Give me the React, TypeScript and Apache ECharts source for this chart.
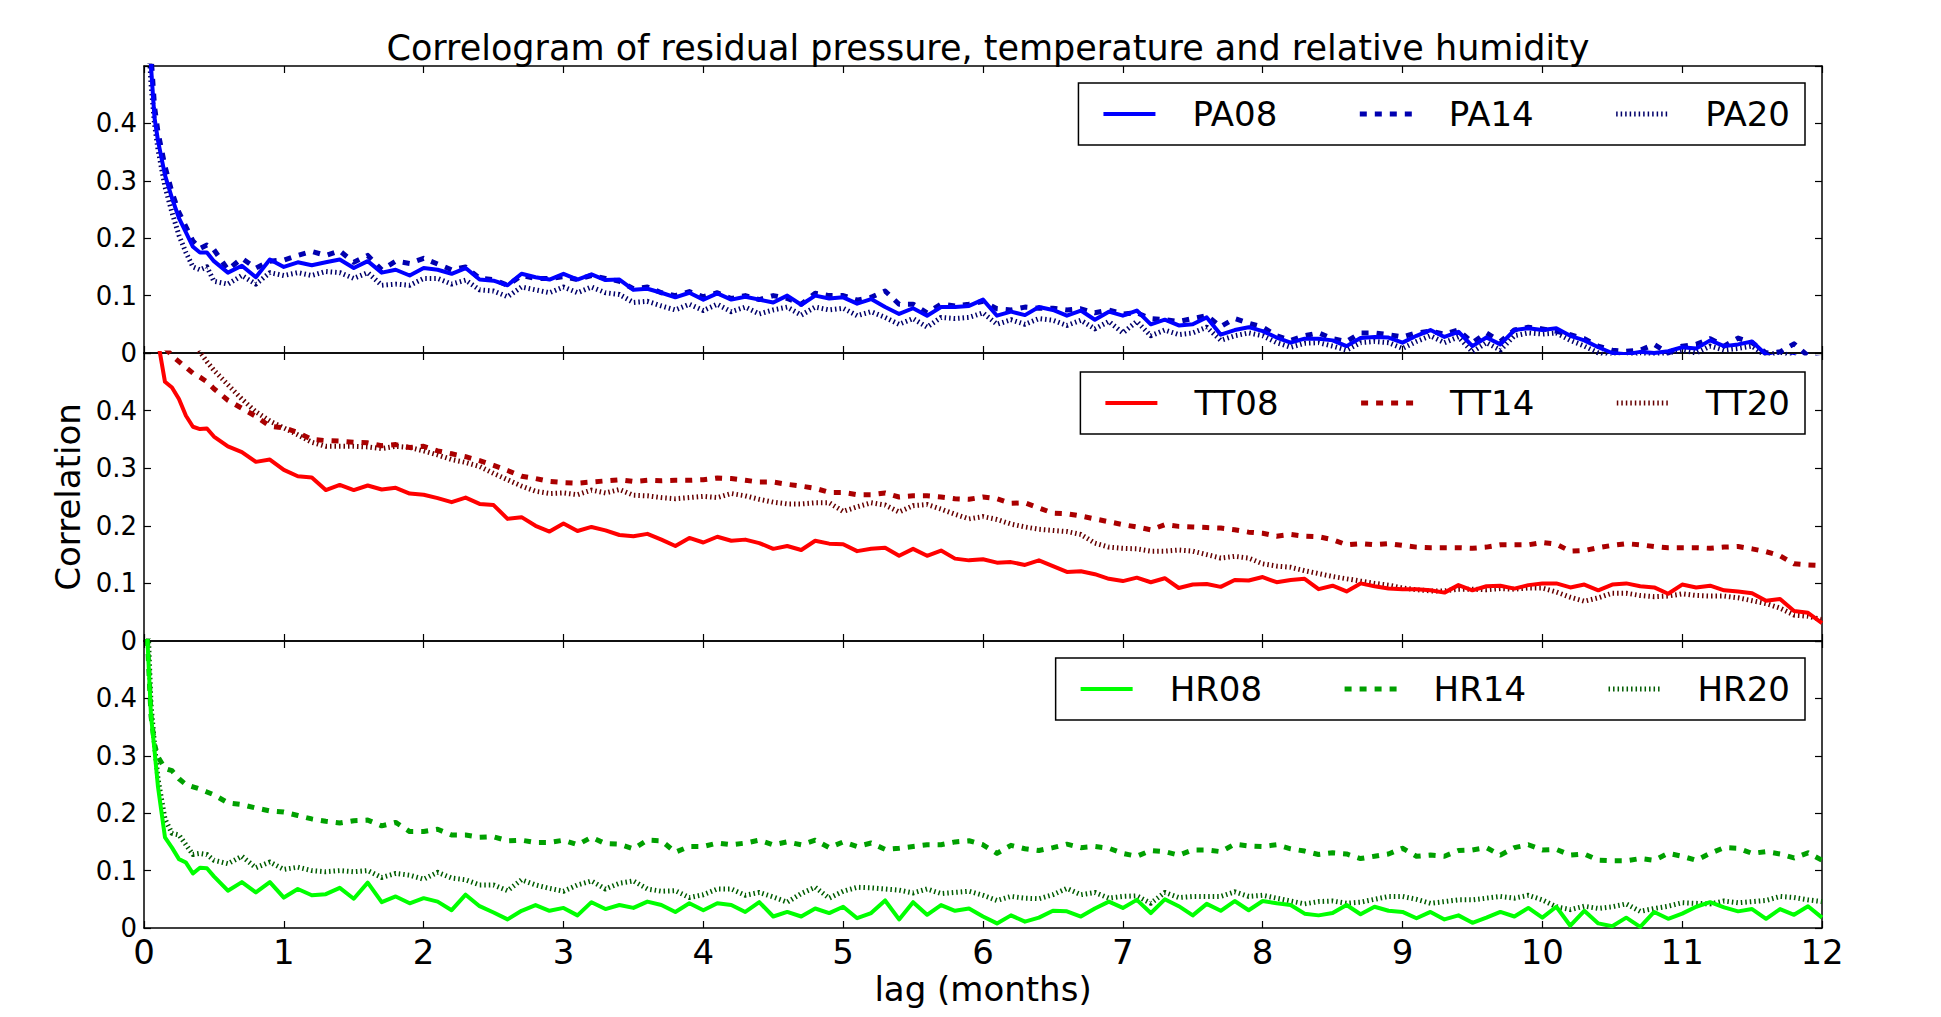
import React, { useEffect, useRef } from "react";
import * as echarts from "echarts";

const FONT = "'DejaVu Sans', sans-serif";
const TITLE = "Correlogram of residual pressure, temperature and relative humidity";
const X_NAME = "lag (months)";
const Y_NAME = "Correlation";

// lags in months: dense at the start, then every 0.1 month
const LAGS_EARLY = [0, 0.025, 0.05, 0.075, 0.1, 0.15, 0.2, 0.25, 0.3, 0.35, 0.4, 0.45, 0.5];
const LAGS = [...LAGS_EARLY, ...Array.from({ length: 115 }, (_, i) => (6 + i) / 10)];

// ---- residual pressure ----
const PA08 = [
  1.0, 0.6, 0.5, 0.41, 0.37, 0.31, 0.27, 0.235, 0.21, 0.185, 0.175, 0.175, 0.16,
  0.14, 0.152, 0.132, 0.163, 0.15, 0.158, 0.153, 0.158, 0.163, 0.148,
  0.16, 0.14, 0.145, 0.135, 0.148, 0.145, 0.138, 0.148, 0.128, 0.126,
  0.118, 0.138, 0.132, 0.128, 0.138, 0.128, 0.137, 0.127, 0.128, 0.11,
  0.112, 0.105, 0.097, 0.105, 0.093, 0.104, 0.093, 0.098, 0.093, 0.088,
  0.1, 0.084, 0.1, 0.095, 0.097, 0.086, 0.094, 0.08, 0.068, 0.078,
  0.065, 0.08, 0.08, 0.082, 0.093,
  0.065, 0.072, 0.066, 0.08, 0.075, 0.065, 0.074, 0.058, 0.072, 0.065,
  0.074, 0.05, 0.058, 0.048, 0.05, 0.062, 0.032, 0.04, 0.045, 0.038,
  0.027, 0.018, 0.025, 0.025, 0.022, 0.012, 0.026, 0.028, 0.027, 0.018,
  0.03, 0.04, 0.028, 0.037, 0.012, 0.027, 0.015, 0.04, 0.043, 0.04,
  0.043, 0.03, 0.022, 0.01, 0.0, -0.002, 0.002, 0.0, 0.003, 0.01,
  0.008, 0.022, 0.012, 0.015, 0.02, -0.003, -0.01, -0.005, -0.015, -0.02,
];
const PA14 = [
  1.0, 0.63, 0.52, 0.43, 0.385, 0.325, 0.28, 0.245, 0.22, 0.195, 0.182, 0.188, 0.18,
  0.145, 0.165, 0.148, 0.16, 0.162, 0.17, 0.177, 0.17, 0.178, 0.158,
  0.17, 0.145, 0.16, 0.156, 0.165, 0.155, 0.145, 0.15, 0.13, 0.128,
  0.118, 0.135, 0.13, 0.13, 0.133, 0.128, 0.135, 0.13, 0.125, 0.112,
  0.115, 0.105, 0.1, 0.107, 0.098, 0.105, 0.095, 0.1, 0.093, 0.1,
  0.095, 0.085, 0.104, 0.1, 0.1, 0.092, 0.097, 0.108, 0.085, 0.085,
  0.07, 0.085, 0.082, 0.085, 0.09,
  0.077, 0.075, 0.08, 0.078, 0.078, 0.075, 0.077, 0.07, 0.075, 0.068,
  0.07, 0.06, 0.058, 0.055, 0.06, 0.065, 0.046, 0.06, 0.052, 0.045,
  0.03, 0.022, 0.03, 0.035, 0.025, 0.02, 0.035, 0.035, 0.032, 0.028,
  0.035, 0.038, 0.033, 0.04, 0.018, 0.035, 0.02, 0.04, 0.045, 0.042,
  0.038, 0.032, 0.025, 0.012, 0.005, 0.003, 0.005, 0.015, 0.0, 0.012,
  0.015, 0.025, 0.012, 0.026, 0.018, 0.0, 0.002, 0.016, -0.005, -0.01,
];
const PA20 = [
  1.0, 0.58, 0.47, 0.4, 0.355, 0.29, 0.245, 0.205, 0.175, 0.15, 0.145, 0.15, 0.125,
  0.12, 0.135, 0.12, 0.14, 0.135, 0.14, 0.135, 0.142, 0.14, 0.13,
  0.14, 0.118, 0.12, 0.118, 0.13, 0.13, 0.12, 0.127, 0.11, 0.108,
  0.098, 0.115, 0.11, 0.105, 0.115, 0.105, 0.115, 0.105, 0.102, 0.088,
  0.09, 0.082, 0.075, 0.085, 0.074, 0.085, 0.072, 0.08, 0.068, 0.075,
  0.08, 0.066, 0.08, 0.075, 0.078, 0.065, 0.072, 0.062, 0.05, 0.06,
  0.045, 0.062, 0.06, 0.062, 0.07,
  0.05, 0.058, 0.05, 0.06, 0.057, 0.048, 0.057, 0.042, 0.055, 0.035,
  0.055, 0.03, 0.04, 0.032, 0.035, 0.045, 0.022, 0.03, 0.035, 0.03,
  0.018, 0.01, 0.017, 0.018, 0.012, 0.005, 0.018, 0.02, 0.018, 0.008,
  0.02, 0.03, 0.018, 0.028, 0.002, 0.018, 0.005, 0.03, 0.035, 0.033,
  0.035, 0.022, 0.012, 0.0, -0.008, -0.01, 0.0, -0.003, 0.0, 0.005,
  0.0, 0.012, 0.005, 0.008, 0.012, -0.005, 0.002, -0.008, -0.015, -0.02,
];

// ---- temperature ----
const TT08 = [
  1.0, 0.8, 0.68, 0.58, 0.52, 0.45, 0.44, 0.42, 0.391, 0.372, 0.368, 0.369, 0.355,
  0.338, 0.328, 0.311, 0.315, 0.297, 0.286, 0.284, 0.262, 0.271, 0.262,
  0.27, 0.263, 0.266, 0.256, 0.254, 0.248, 0.241, 0.249, 0.238, 0.236,
  0.212, 0.215, 0.2, 0.19, 0.204, 0.191, 0.198, 0.192, 0.184, 0.182,
  0.186, 0.176, 0.165, 0.179, 0.171, 0.181, 0.174, 0.176, 0.17, 0.16,
  0.165, 0.158, 0.174, 0.169, 0.168, 0.156, 0.16, 0.162, 0.148, 0.16,
  0.148, 0.157, 0.143, 0.14, 0.142,
  0.136, 0.137, 0.132, 0.14, 0.13, 0.12, 0.121, 0.116, 0.108, 0.104,
  0.11, 0.102, 0.109, 0.092, 0.098, 0.099, 0.094, 0.106, 0.105, 0.111,
  0.102, 0.106, 0.108, 0.09, 0.096, 0.086, 0.1, 0.095, 0.091, 0.09,
  0.09, 0.088, 0.084, 0.097, 0.088, 0.095, 0.096, 0.091, 0.097, 0.1,
  0.1, 0.093, 0.098, 0.088, 0.098, 0.1, 0.095, 0.093, 0.082, 0.098,
  0.093, 0.096, 0.088, 0.086, 0.083, 0.07, 0.073, 0.052, 0.049, 0.031,
];
const TT14 = [
  1.0, 0.8, 0.68, 0.6, 0.55, 0.51, 0.495, 0.485, 0.475, 0.465, 0.458, 0.45, 0.438,
  0.418, 0.404, 0.39, 0.373, 0.37, 0.362, 0.35, 0.348, 0.347, 0.345,
  0.344, 0.339, 0.341, 0.336, 0.338, 0.33, 0.325, 0.32, 0.313, 0.305,
  0.296, 0.286, 0.282, 0.277, 0.275, 0.274, 0.276, 0.278, 0.28, 0.277,
  0.279, 0.278, 0.279, 0.279, 0.28, 0.283, 0.282, 0.279, 0.276, 0.276,
  0.272, 0.269, 0.265, 0.258, 0.258, 0.254, 0.254, 0.257, 0.25, 0.252,
  0.252, 0.25, 0.247, 0.246, 0.25,
  0.247, 0.239, 0.24, 0.231, 0.222, 0.221, 0.217, 0.212, 0.207, 0.202,
  0.198, 0.193, 0.202, 0.199, 0.198, 0.197, 0.196, 0.193, 0.189, 0.187,
  0.182, 0.185, 0.182, 0.181, 0.176, 0.167, 0.169, 0.167, 0.169, 0.166,
  0.163, 0.162, 0.162, 0.162, 0.161, 0.163, 0.167, 0.167, 0.167, 0.171,
  0.168, 0.156, 0.157, 0.162, 0.166, 0.169, 0.167, 0.164, 0.162, 0.162,
  0.162, 0.161, 0.163, 0.164, 0.16, 0.155, 0.148, 0.134, 0.132, 0.131,
];
const TT20 = [
  1.0, 0.85, 0.76, 0.7, 0.65, 0.6, 0.57, 0.55, 0.53, 0.515, 0.502, 0.485, 0.47,
  0.445, 0.42, 0.398, 0.382, 0.37, 0.358, 0.345, 0.338, 0.338, 0.338,
  0.337, 0.334, 0.338, 0.336, 0.33, 0.323, 0.315, 0.31, 0.303, 0.291,
  0.28, 0.269, 0.26, 0.256, 0.257, 0.254, 0.262, 0.257, 0.263, 0.253,
  0.252, 0.249, 0.247, 0.249, 0.251, 0.249, 0.256, 0.252, 0.246, 0.241,
  0.238, 0.238, 0.24, 0.24, 0.225, 0.233, 0.24, 0.236, 0.224, 0.235,
  0.237, 0.229, 0.22, 0.212, 0.216,
  0.211, 0.203, 0.198, 0.194, 0.192, 0.19, 0.185, 0.17, 0.163, 0.161,
  0.16, 0.156, 0.156, 0.158, 0.156, 0.15, 0.144, 0.147, 0.144, 0.134,
  0.13, 0.128, 0.122, 0.117, 0.112, 0.108, 0.104, 0.1, 0.097, 0.092,
  0.089, 0.087, 0.087, 0.09, 0.09, 0.089, 0.091, 0.09, 0.092, 0.092,
  0.085, 0.076, 0.069, 0.075, 0.083, 0.083, 0.079, 0.077, 0.078, 0.082,
  0.079, 0.078, 0.078, 0.075, 0.07, 0.065, 0.057, 0.045, 0.043, 0.037,
];

// ---- relative humidity ----
const HR08 = [
  1.0, 0.5, 0.37, 0.31, 0.246, 0.158, 0.14, 0.12, 0.114, 0.095, 0.105, 0.104, 0.09,
  0.065, 0.08, 0.062, 0.08, 0.053, 0.068, 0.057, 0.059, 0.07, 0.051,
  0.079, 0.045, 0.055, 0.043, 0.052, 0.046, 0.031, 0.058, 0.038, 0.027,
  0.015, 0.03, 0.04, 0.03, 0.035, 0.022, 0.045, 0.033, 0.04, 0.035,
  0.046, 0.04, 0.028, 0.043, 0.031, 0.043, 0.04, 0.028, 0.045, 0.02,
  0.028, 0.02, 0.034, 0.026, 0.037, 0.017, 0.026, 0.048, 0.015, 0.045,
  0.023, 0.04, 0.03, 0.034, 0.02,
  0.008, 0.022, 0.011, 0.018, 0.03, 0.029, 0.02, 0.034, 0.046, 0.035,
  0.049, 0.026, 0.05, 0.038, 0.022, 0.042, 0.03, 0.047, 0.031, 0.047,
  0.043, 0.04, 0.025, 0.022, 0.026, 0.04, 0.024, 0.037, 0.03, 0.028,
  0.017, 0.028, 0.015, 0.022, 0.009, 0.018, 0.028, 0.02, 0.035, 0.018,
  0.037, 0.004, 0.03, 0.008, 0.003, 0.018, 0.002, 0.028, 0.016, 0.025,
  0.037, 0.045, 0.036, 0.029, 0.033, 0.016, 0.033, 0.023, 0.038, 0.018,
];
const HR14 = [
  1.0, 0.5, 0.37, 0.32, 0.298, 0.278, 0.274, 0.26, 0.25, 0.246, 0.242, 0.237, 0.232,
  0.218, 0.215, 0.209, 0.204, 0.202, 0.196, 0.19, 0.186, 0.183, 0.187,
  0.188, 0.178, 0.184, 0.168, 0.168, 0.172, 0.162, 0.162, 0.158, 0.159,
  0.152, 0.153, 0.149, 0.149, 0.153, 0.145, 0.158, 0.147, 0.146, 0.138,
  0.153, 0.152, 0.132, 0.142, 0.142, 0.148, 0.145, 0.148, 0.153, 0.145,
  0.15, 0.145, 0.153, 0.14, 0.15, 0.142, 0.148, 0.137, 0.139, 0.142,
  0.145, 0.145, 0.15, 0.152, 0.145,
  0.13, 0.144, 0.138, 0.135, 0.14, 0.146, 0.14, 0.142, 0.139, 0.13,
  0.125, 0.135, 0.133, 0.127, 0.136, 0.136, 0.133, 0.146, 0.143, 0.142,
  0.145, 0.138, 0.134, 0.128, 0.131, 0.129, 0.121, 0.125, 0.129, 0.139,
  0.125, 0.127, 0.125, 0.135, 0.136, 0.14, 0.127, 0.14, 0.145, 0.136,
  0.137, 0.127, 0.129, 0.118, 0.117, 0.117, 0.121, 0.118, 0.13, 0.125,
  0.118, 0.13, 0.14, 0.139, 0.13, 0.133, 0.129, 0.122, 0.131, 0.118,
];
const HR20 = [
  1.0, 0.55, 0.39, 0.32, 0.26, 0.19, 0.165, 0.162, 0.145, 0.128, 0.13, 0.128, 0.118,
  0.112, 0.125, 0.105, 0.115, 0.102, 0.106, 0.1, 0.098, 0.1, 0.098,
  0.1, 0.088, 0.095, 0.092, 0.085, 0.097, 0.087, 0.084, 0.075, 0.075,
  0.065, 0.084, 0.075, 0.069, 0.064, 0.075, 0.082, 0.068, 0.078, 0.082,
  0.068, 0.064, 0.065, 0.053, 0.058, 0.068, 0.068, 0.057, 0.062, 0.054,
  0.045, 0.06, 0.071, 0.052, 0.064, 0.071, 0.07, 0.068, 0.066, 0.061,
  0.068, 0.06, 0.062, 0.064, 0.057,
  0.048, 0.055, 0.052, 0.051, 0.058, 0.069, 0.058, 0.062, 0.052, 0.055,
  0.056, 0.043, 0.062, 0.053, 0.055, 0.055, 0.055, 0.063, 0.055, 0.057,
  0.052, 0.047, 0.042, 0.046, 0.047, 0.043, 0.045, 0.05, 0.055, 0.055,
  0.05, 0.043, 0.046, 0.049, 0.049, 0.052, 0.055, 0.052, 0.057, 0.049,
  0.037, 0.032, 0.038, 0.034, 0.037, 0.042, 0.029, 0.034, 0.038, 0.044,
  0.043, 0.042, 0.047, 0.044, 0.046, 0.048, 0.055, 0.053, 0.049, 0.046,
];

const PANELS = [
  { names: ["PA08", "PA14", "PA20"], colors: ["#0000ff", "#0000b0", "#00006a"], values: [PA08, PA14, PA20] },
  { names: ["TT08", "TT14", "TT20"], colors: ["#ff0000", "#aa0000", "#660000"], values: [TT08, TT14, TT20] },
  { names: ["HR08", "HR14", "HR20"], colors: ["#00ff00", "#00a000", "#005c00"], values: [HR08, HR14, HR20] },
];

const LINE_STYLES = [
  { width: 4, type: "solid" as any },
  { width: 5, type: [7, 8] as any },
  { width: 5, type: [1.5, 3] as any },
];

const GRID_TOPS = [66, 353, 641];
const GRID_HEIGHTS = [287, 288, 287];
const LEGEND_TOPS = [83, 372, 658];

export default function App() {
  const ref = useRef<HTMLDivElement>(null);

  useEffect(() => {
    document.body.style.margin = "0";
    if (!ref.current) return;
    const chart = echarts.init(ref.current, undefined, { renderer: "svg" });

    const grids = GRID_TOPS.map((top, i) => ({
      left: 144,
      right: 119,
      top,
      height: GRID_HEIGHTS[i],
      containLabel: false,
    }));

    const axisLine = { show: true, onZero: false, lineStyle: { color: "#000", width: 1.5 } };
    const axisTick = { show: true, inside: true, length: 7, lineStyle: { color: "#000", width: 1.2 } };

    const xAxes: any[] = [];
    const yAxes: any[] = [];
    for (let i = 0; i < 3; i++) {
      const isLast = i === 2;
      const base = {
        type: "value",
        gridIndex: i,
        min: 0,
        max: 12,
        interval: 1,
        axisLine,
        axisTick,
        splitLine: { show: false },
      };
      xAxes.push({
        ...base,
        position: "bottom",
        axisLabel: { show: isLast, fontSize: 34, color: "#000", fontFamily: FONT, margin: 7 },
        name: isLast ? X_NAME : "",
        nameLocation: "middle",
        nameGap: 44,
        nameTextStyle: { fontSize: 34, color: "#000", fontFamily: FONT },
      });
      xAxes.push({ ...base, position: "top", axisLabel: { show: false } });
      const ybase = {
        type: "value",
        gridIndex: i,
        min: 0,
        max: 0.5,
        interval: 0.1,
        axisLine,
        axisTick,
        splitLine: { show: false },
      };
      yAxes.push({
        ...ybase,
        position: "left",
        axisLabel: {
          show: true,
          fontSize: 26,
          color: "#000",
          fontFamily: FONT,
          margin: 7,
          formatter: (v: number) => (v > 0.45 ? "" : v === 0 ? "0" : v.toFixed(1)),
        },
        name: i === 1 ? Y_NAME : "",
        nameLocation: "middle",
        nameRotate: 90,
        nameGap: 56,
        nameTextStyle: { fontSize: 34, color: "#000", fontFamily: FONT },
      });
      yAxes.push({ ...ybase, position: "right", axisLabel: { show: false } });
    }

    const series: any[] = [];
    PANELS.forEach((p, i) => {
      p.names.forEach((name, k) => {
        series.push({
          type: "line",
          name,
          xAxisIndex: 2 * i,
          yAxisIndex: 2 * i,
          data: LAGS.map((x, j) => [x, p.values[k][j]]),
          symbol: "none",
          showSymbol: false,
          clip: true,
          lineStyle: { color: p.colors[k], width: LINE_STYLES[k].width, type: LINE_STYLES[k].type, join: "round" },
          itemStyle: { color: p.colors[k] },
          z: 3 - k,
        });
      });
    });

    const legends = PANELS.map((p, i) => ({
      data: p.names.map((name, k) => ({
        name,
        itemStyle: { opacity: 0 },
        lineStyle: { color: p.colors[k], width: LINE_STYLES[k].width, type: LINE_STYLES[k].type, opacity: 1 },
      })),
      right: 136,
      top: LEGEND_TOPS[i],
      orient: "horizontal",
      itemWidth: 52,
      itemHeight: 12,
      itemGap: 80,
      padding: [14, 15, 14, 23],
      borderColor: "#000",
      borderWidth: 1.5,
      backgroundColor: "#fff",
      selectedMode: false,
      textStyle: { fontSize: 34, color: "#000", fontFamily: FONT, padding: [0, 0, 0, 32] },
    }));

    chart.setOption({
      animation: false,
      backgroundColor: "#fff",
      title: {
        text: TITLE,
        left: 983,
        textAlign: "center",
        top: 25,
        textStyle: { fontSize: 35, fontWeight: "normal", color: "#000", fontFamily: FONT },
      },
      grid: grids,
      xAxis: xAxes,
      yAxis: yAxes,
      legend: legends,
      series,
    });

    return () => chart.dispose();
  }, []);

  return <div ref={ref} style={{ width: 1941, height: 1017 }} />;
}
